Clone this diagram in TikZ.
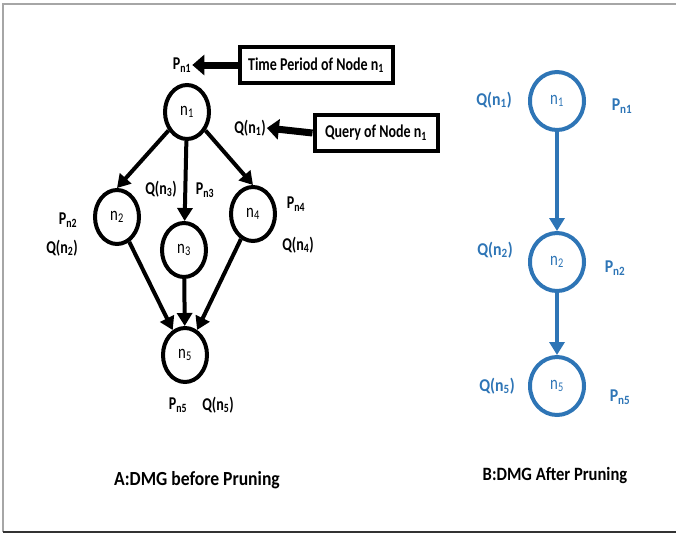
\documentclass[tikz,border=0pt]{standalone}
\usepackage{fontspec}
\setmainfont{Carlito}[FakeStretch=0.78]
\newfontfamily\widefont{Carlito}[FakeStretch=0.88]
\usepackage{tikz}
\usetikzlibrary{arrows.meta,shapes.geometric,positioning}
\definecolor{dmgblue}{RGB}{46,117,182}
\tikzstyle{vert} = [ellipse, draw=black, line width=4pt, minimum width=44pt, minimum height=54pt, inner sep=0pt, font=\fontsize{19}{21}\selectfont]
\tikzstyle{bvert} = [vert, draw=dmgblue, text=dmgblue, minimum width=54pt, minimum height=58pt]
\tikzstyle{lbl} = [font=\fontsize{18}{20}\selectfont\bfseries, inner sep=1pt]
\tikzstyle{blbl} = [font=\fontsize{18}{20}\selectfont\widefont\bfseries, inner sep=1pt, text=dmgblue]
\tikzstyle{infobox} = [rectangle, draw=black, line width=4pt, minimum height=36pt, lbl, inner sep=4pt]
\tikzstyle{arrow} = [line width=4pt, -{Triangle[length=13pt,width=15pt]}]
\tikzstyle{barrow} = [arrow, draw=dmgblue, color=dmgblue]
\tikzstyle{fat} = [line width=7pt, -{Triangle[length=12pt,width=20pt]}]
\tikzstyle{caption} = [font=\fontsize{20}{22}\selectfont\widefont\bfseries]

\begin{document}
\begin{tikzpicture}[x=1pt,y=-1pt]
\useasboundingbox (0,0) rectangle (676,536);
% frame
\draw[gray!70, line width=1.5pt] (676,4) -- (3,4) -- (3,532);
\draw[black!80, line width=1.5pt] (3,532) -- (676,532);

% DMG before pruning
\node[vert] (a1) at (187,112) {n\textsubscript{1}};
\node[vert] (a2) at (117,217) {n\textsubscript{2}};
\node[vert] (a3) at (184,250) {n\textsubscript{3}};
\node[vert] (a4) at (253,214) {n\textsubscript{4}};
\node[vert] (a5) at (185,355) {n\textsubscript{5}};

\draw[arrow] (a1.225) -- (a2.north);
\draw[arrow] (a1) -- (a3);
\draw[arrow] (a1.-45) -- (a4.north);
\draw[arrow] (a2) -- (a5);
\draw[arrow] (a3) -- (a5);
\draw[arrow] (a4) -- (a5);

\node[lbl] (ap1) at (182,65) {P\textsubscript{n1}};
\node[lbl] (aq1) at (250,128) {Q(n\textsubscript{1})};
\node[lbl] (ap2) at (68,220) {P\textsubscript{n2}};
\node[lbl] (aq2) at (62,248) {Q(n\textsubscript{2})};
\node[lbl] (aq3) at (161,189) {Q(n\textsubscript{3})};
\node[lbl] (ap3) at (205,190) {P\textsubscript{n3}};
\node[lbl] (ap4) at (296,204) {P\textsubscript{n4}};
\node[lbl] (aq4) at (298,245) {Q(n\textsubscript{4})};
\node[lbl] (ap5) at (178,405) {P\textsubscript{n5}};
\node[lbl] (aq5) at (218,405) {Q(n\textsubscript{5})};

\node[infobox, minimum width=153pt] (tbox) at (316,65) {Time Period of Node n\textsubscript{1}};
\node[infobox, minimum width=123pt] (qbox) at (376,133) {Query of Node n\textsubscript{1}};
\draw[fat] (tbox.west) -- (ap1.east);
\draw[fat] (qbox.west) -- (aq1.east);

\node[caption] (capa) at (197,480) {A:DMG before Pruning};

% DMG after pruning
\node[bvert] (b1) at (557,101) {n\textsubscript{1}};
\node[bvert] (b2) at (557,262) {n\textsubscript{2}};
\node[bvert] (b5) at (557,386) {n\textsubscript{5}};

\draw[barrow] (b1) -- (b2);
\draw[barrow] (b2) -- (b5);

\node[blbl] (bq1) at (494,100) {Q(n\textsubscript{1})};
\node[blbl] (bp1) at (622,106) {P\textsubscript{n1}};
\node[blbl] (bq2) at (495,250) {Q(n\textsubscript{2})};
\node[blbl] (bp2) at (615,268) {P\textsubscript{n2}};
\node[blbl] (bq5) at (497,386) {Q(n\textsubscript{5})};
\node[blbl] (bp5) at (620,397) {P\textsubscript{n5}};

\node[caption, scale=0.94] (capb) at (555,475) {B:DMG After Pruning};
\end{tikzpicture}
\end{document}
